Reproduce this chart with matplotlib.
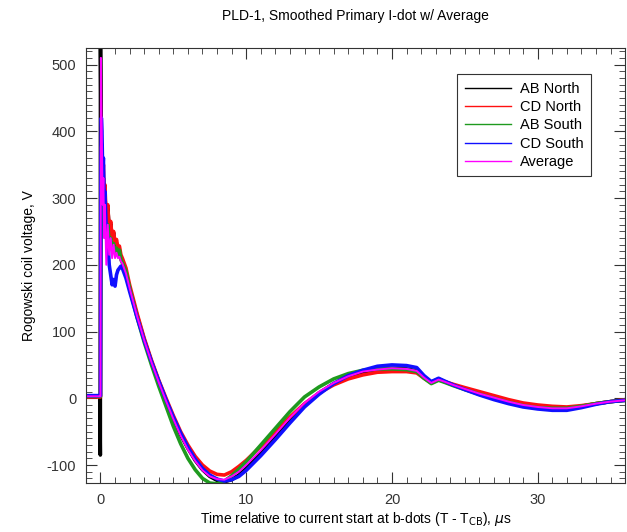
import numpy as np
import matplotlib
matplotlib.use("Agg")
import matplotlib.pyplot as plt
from matplotlib.ticker import MultipleLocator

plt.rcParams['font.family'] = ['Liberation Sans', 'DejaVu Sans']
plt.rcParams['axes.unicode_minus'] = False

# время, мкс (густо у начала импульса)
t = [-1.0, -0.5, -0.05, -0.01, 0.0, 0.03, 0.06, 0.1, 0.15, 0.2, 0.25, 0.3,
     0.4, 0.5, 0.6, 0.7, 0.8, 0.9, 1.0, 1.1, 1.2, 1.3, 1.4, 1.5,
     1.75, 2.0, 2.5, 3.0, 3.5, 4.0, 4.5, 5.0, 5.5, 6.0, 6.5, 7.0, 7.5,
     8.0, 8.5, 9.0, 9.5, 10.0, 11.0, 12.0, 13.0, 14.0, 15.0, 16.0, 17.0,
     18.0, 19.0, 20.0, 21.0, 21.7, 22.2, 22.7, 23.2, 23.6, 24.2, 25.0,
     26.0, 27.0, 28.0, 29.0, 30.0, 31.0, 32.0, 33.0, 34.0, 35.0, 36.0]

ab_north = [3, 3, 3, -85, 540, 430, 350, 330, 310, 330, 290, 305,
            270, 285, 255, 262, 240, 248, 228, 232, 218, 222, 210, 205,
            185, 165, 125, 88, 55, 25, -3, -30, -55, -75, -93, -107, -117,
            -123, -125, -122, -115, -105, -82, -57, -32, -10, 8, 22, 32,
            39, 43, 45, 44, 41, 32, 24, 29, 25, 20, 14,
            7, 1, -5, -10, -13, -15, -15, -12, -8, -5, -3]

cd_north = [2, 2, 2, 2, 2, 300, 375, 380, 330, 350, 300, 320,
            270, 290, 250, 265, 240, 250, 232, 238, 225, 228, 215, 210,
            195, 170, 128, 90, 57, 27, 0, -26, -50, -70, -87, -100, -109,
            -114, -115, -110, -102, -93, -72, -50, -28, -8, 8, 20, 29,
            35, 39, 40, 40, 38, 30, 23, 28, 25, 21, 16,
            10, 4, -2, -7, -10, -12, -13, -11, -8, -5, -2]

ab_south = [3, 3, 3, 3, 3, 250, 330, 310, 280, 300, 260, 275,
            245, 260, 232, 240, 225, 232, 218, 225, 215, 222, 208, 203,
            190, 165, 122, 84, 50, 18, -12, -42, -68, -90, -107, -120, -127,
            -128, -124, -116, -106, -95, -70, -45, -20, 2, 17, 29, 37,
            42, 44, 44, 43, 40, 30, 22, 27, 24, 19, 13,
            6, 0, -6, -11, -14, -15, -15, -12, -8, -5, -3]

cd_south = [4, 4, 4, 4, 4, 350, 420, 400, 340, 360, 300, 310,
            250, 240, 200, 185, 170, 178, 168, 185, 192, 195, 198, 195,
            180, 160, 122, 87, 55, 26, -2, -28, -52, -73, -91, -105, -115,
            -121, -124, -122, -117, -108, -86, -62, -37, -13, 6, 22, 34,
            42, 48, 50, 49, 46, 34, 25, 30, 26, 20, 13,
            5, -2, -8, -13, -16, -18, -18, -14, -9, -5, -3]

average = [3, 3, 3, 3, 3, 510, 450, 380, 290, 330, 240, 290,
           200, 260, 215, 240, 210, 230, 210, 218, 210, 212, 205, 202,
           187, 165, 124, 87, 54, 24, -4, -31, -56, -77, -94, -108, -117,
           -121, -122, -117, -110, -100, -78, -54, -29, -7, 10, 23, 33,
           40, 43, 45, 44, 41, 31, 23, 28, 25, 20, 14,
           7, 1, -5, -10, -13, -15, -15, -12, -8, -5, -3]

series = [
    ("AB North", ab_north, "black", 2.6),
    ("CD North", cd_north, "#ff1010", 2.6),
    ("AB South", ab_south, "#1f9a1f", 2.6),
    ("CD South", cd_south, "#1010ff", 2.6),
    ("Average", average, "#ff00ff", 1.4),
]

fig = plt.figure(figsize=(6.27, 5.32), dpi=100)
ax = fig.add_axes([0.137, 0.092, 0.860, 0.818])

for name, vals, col, lw in series:
    ax.plot(t, vals, color=col, lw=lw, label=name)

ax.set_xlim(-1.0, 36.0)
ax.set_ylim(-127, 525)

ax.xaxis.set_major_locator(MultipleLocator(10))
ax.xaxis.set_minor_locator(MultipleLocator(1))
ax.yaxis.set_major_locator(MultipleLocator(100))
ax.yaxis.set_minor_locator(MultipleLocator(10))
ax.tick_params(which="both", direction="in", top=True, right=True,
               labelsize=10.5, colors="#333333")
ax.tick_params(which="major", length=8, width=0.8, pad=7)
ax.tick_params(which="minor", length=4, width=0.6)
for sp in ax.spines.values():
    sp.set_linewidth(0.8)
    sp.set_color("#333333")

ax.set_xlabel(r"Time relative to current start at b-dots (T - T$_{\rm CB}$), $\mu$s",
              fontsize=10, labelpad=2)
ax.set_ylabel("Rogowski coil voltage, V", fontsize=10, labelpad=8)
fig.suptitle("PLD-1, Smoothed Primary I-dot w/ Average", fontsize=10, x=0.567, y=0.983)

leg = ax.legend(loc="upper right", bbox_to_anchor=(0.95, 0.956), fontsize=10.5,
                fancybox=False, edgecolor="#333333", framealpha=1,
                handlelength=3.2, handletextpad=0.6, labelspacing=0.3,
                borderpad=0.5)
leg.get_frame().set_linewidth(0.8)
for h in leg.get_lines():
    h.set_linewidth(1.0)

fig.savefig("out.png", dpi=100)
